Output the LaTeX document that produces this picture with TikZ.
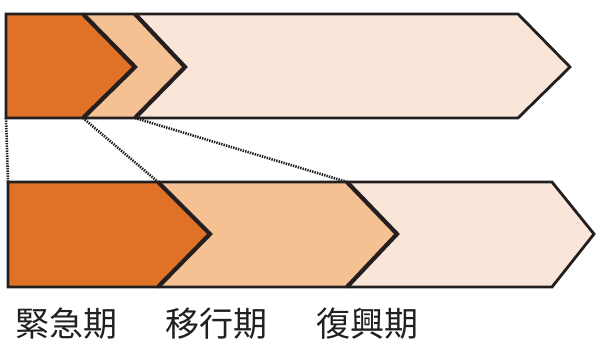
\documentclass[tikz,border=0pt]{standalone}
\usepackage{fontspec}
\newfontfamily\cjk{Noto Sans CJK JP}
\definecolor{dkor}{RGB}{224,114,40}
\definecolor{ltor}{RGB}{245,192,146}
\definecolor{pale}{RGB}{250,230,216}
\definecolor{edge}{RGB}{35,31,32}
\begin{document}
\begin{tikzpicture}[x=1pt,y=-1pt,
  outline/.style={draw=edge,line width=2.8pt,line join=miter},
  chev/.style={draw=edge,line width=4.2pt,line join=miter},
  zoomline/.style={draw=edge,line width=2.6pt,dash pattern=on 1.4pt off 1.1pt},
  label/.style={font=\cjk\fontsize{34}{34}\selectfont,text=edge,inner sep=0pt,anchor=west}]
\useasboundingbox (0,0) rectangle (597,345);
% ---- top bar
\coordinate (tL) at (6,14); \coordinate (tBL) at (6,118);
\coordinate (tA) at (83,14); \coordinate (tAb) at (83,118); \coordinate (tAt) at (135,67);
\coordinate (tB) at (135,14); \coordinate (tBb) at (135,118); \coordinate (tBt) at (185,67);
\fill[pale] (tL) -- (518,14) -- (570,67) -- (518,118) -- (tBL) -- cycle;
\fill[ltor] (tL) -- (tB) -- (tBt) -- (tBb) -- (tBL) -- cycle;
\fill[dkor] (tL) -- (tA) -- (tAt) -- (tAb) -- (tBL) -- cycle;
\draw[chev] (tA) -- (tAt) -- (tAb);
\draw[chev] (tB) -- (tBt) -- (tBb);
\draw[outline] (tL) -- (518,14) -- (570,67) -- (518,118) -- (tBL) -- cycle;
% ---- bottom bar
\coordinate (bL) at (8,182); \coordinate (bBL) at (8,287);
\coordinate (bA) at (158,182); \coordinate (bAb) at (158,287); \coordinate (bAt) at (210,234);
\coordinate (bB) at (347,182); \coordinate (bBb) at (347,287); \coordinate (bBt) at (397,234);
\fill[pale] (bL) -- (552,182) -- (594,234) -- (552,287) -- (bBL) -- cycle;
\fill[ltor] (bL) -- (bB) -- (bBt) -- (bBb) -- (bBL) -- cycle;
\fill[dkor] (bL) -- (bA) -- (bAt) -- (bAb) -- (bBL) -- cycle;
\draw[chev] (bA) -- (bAt) -- (bAb);
\draw[chev] (bB) -- (bBt) -- (bBb);
\draw[outline] (bL) -- (552,182) -- (594,234) -- (552,287) -- (bBL) -- cycle;
% ---- zoom lines
\draw[zoomline] (tBL) -- (bL);
\draw[zoomline] (tAb) -- (bA);
\draw[zoomline] (tBb) -- (bB);
% ---- labels
\node[label] (l1) at (15,324) {緊急期};
\node[label] (l2) at (165,324) {移行期};
\node[label] (l3) at (316,324) {復興期};
\end{tikzpicture}
\end{document}
